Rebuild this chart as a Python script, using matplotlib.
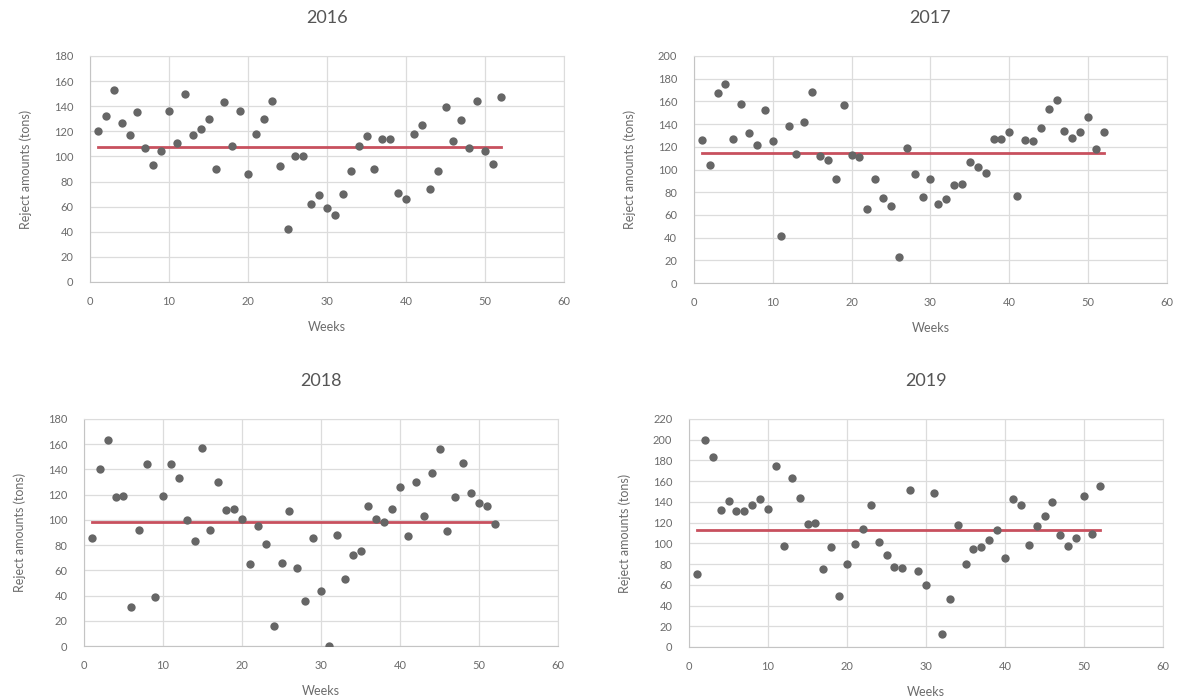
import numpy as np
import matplotlib.pyplot as plt

plt.rcParams["font.family"] = ["Lato", "DejaVu Sans"]

weeks = np.arange(1, 53)

rejects_2016 = [120, 132, 153, 127, 117, 135, 107, 93, 104, 136,
                111, 150, 117, 122, 130, 90, 143, 108, 136, 86,
                118, 130, 144, 92, 42, 100, 100, 62, 69, 59,
                53, 70, 88, 108, 116, 90, 114, 114, 71, 66,
                118, 125, 74, 88, 139, 112, 129, 107, 144, 104,
                94, 147]
rejects_2017 = [126, 104, 167, 175, 127, 158, 132, 122, 152, 125,
                41, 138, 114, 142, 168, 112, 108, 92, 157, 113,
                111, 65, 92, 75, 68, 23, 119, 96, 76, 92,
                70, 74, 86, 87, 107, 102, 97, 127, 127, 133,
                77, 126, 125, 137, 153, 161, 134, 128, 133, 146,
                118, 133]
rejects_2018 = [86, 140, 163, 118, 119, 31, 92, 144, 39, 119,
                144, 133, 100, 83, 157, 92, 130, 108, 109, 101,
                65, 95, 81, 16, 66, 107, 62, 36, 86, 44,
                0, 88, 53, 72, 75, 111, 101, 98, 109, 126,
                87, 130, 103, 137, 156, 91, 118, 145, 121, 113,
                111, 97]
rejects_2019 = [70, 200, 183, 132, 141, 131, 131, 137, 143, 133,
                175, 97, 163, 144, 119, 120, 75, 96, 49, 80,
                99, 114, 137, 101, 89, 77, 76, 151, 73, 60,
                149, 13, 46, 118, 80, 95, 96, 103, 113, 86,
                143, 137, 98, 117, 126, 140, 108, 97, 105, 146,
                109, 155]

panels = [
    ("2016", rejects_2016, 180, [0.0764, 0.5966, 0.4024, 0.3233]),
    ("2017", rejects_2017, 200, [0.5891, 0.5951, 0.4015, 0.3248]),
    ("2018", rejects_2018, 180, [0.0713, 0.0758, 0.4024, 0.3248]),
    ("2019", rejects_2019, 220, [0.5849, 0.0744, 0.4024, 0.3262]),
]

txt = "#6b6b6b"
grid = "#dcdcdc"

fig = plt.figure(figsize=(11.78, 6.99), dpi=100)

for year, vals, ymax, rect in panels:
    ax = fig.add_axes(rect)
    vals = np.array(vals)
    avg = vals.mean()
    ax.plot([weeks[0], weeks[-1]], [avg, avg], color="#c8505e", lw=2.0, zorder=2)
    ax.scatter(weeks, vals, s=36, color="#666666", zorder=3, linewidths=0)
    ax.set_xlim(0, 60)
    ax.set_ylim(0, ymax)
    ax.set_xticks(range(0, 61, 10))
    ax.set_yticks(range(0, ymax + 1, 20))
    ax.grid(True, color=grid, lw=0.9)
    ax.set_axisbelow(True)
    for sp in ax.spines.values():
        sp.set_color(grid)
    ax.spines["bottom"].set_color("#c4c4c4")
    ax.spines["left"].set_color("#c4c4c4")
    ax.tick_params(length=0, labelsize=8, colors=txt)
    ax.tick_params(axis="x", pad=10)
    ax.tick_params(axis="y", pad=12)
    ax.set_title(year, fontsize=13, color="#555555", pad=24)
    ax.set_xlabel("Weeks", fontsize=9, color=txt, labelpad=10)
    ax.set_ylabel("Reject amounts (tons)", fontsize=9, color=txt, labelpad=16)

fig.savefig("out.png", dpi=100)
